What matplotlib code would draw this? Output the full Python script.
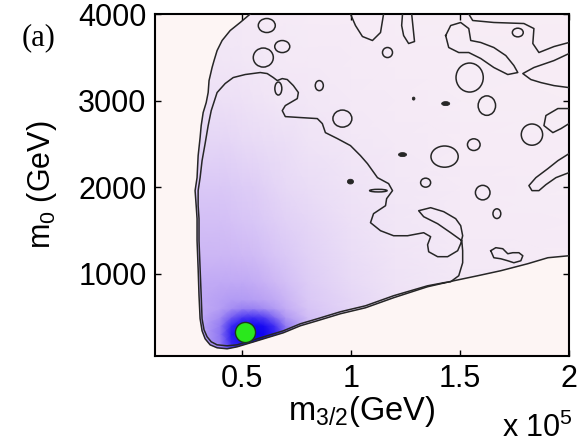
import numpy as np
import matplotlib
matplotlib.use('Agg')
import matplotlib.pyplot as plt
from matplotlib.colors import LinearSegmentedColormap
from matplotlib.patches import Polygon, Ellipse

plt.rcParams['font.family'] = ['Liberation Sans', 'DejaVu Sans']

# x in units of 1e5 GeV, y (m0) in GeV
# coarse density read off the colour of the picture
grid_x = [0.1, 0.3, 0.4, 0.45, 0.5, 0.55, 0.6, 0.65, 0.7, 0.8, 1.0, 1.2, 1.5, 2.0]
grid_y = [40, 200, 300, 400, 500, 600, 700, 900, 1200, 1600, 2000, 2500, 3000, 3500, 4000]
density = [
    [0.40, 0.42, 0.55, 0.70, 0.78, 0.80, 0.76, 0.66, 0.52, 0.34, 0.22, 0.16, 0.10, 0.10],
    [0.40, 0.42, 0.60, 0.82, 0.92, 0.95, 0.90, 0.78, 0.60, 0.38, 0.24, 0.17, 0.11, 0.10],
    [0.40, 0.42, 0.62, 0.86, 0.98, 1.00, 0.97, 0.84, 0.65, 0.40, 0.25, 0.17, 0.11, 0.10],
    [0.40, 0.42, 0.60, 0.82, 0.95, 0.97, 0.93, 0.80, 0.60, 0.38, 0.25, 0.17, 0.11, 0.10],
    [0.40, 0.42, 0.55, 0.68, 0.78, 0.80, 0.76, 0.64, 0.50, 0.35, 0.24, 0.16, 0.11, 0.10],
    [0.40, 0.42, 0.48, 0.54, 0.58, 0.58, 0.55, 0.49, 0.42, 0.32, 0.23, 0.16, 0.11, 0.10],
    [0.40, 0.43, 0.47, 0.49, 0.49, 0.48, 0.46, 0.43, 0.39, 0.30, 0.22, 0.15, 0.10, 0.09],
    [0.39, 0.42, 0.43, 0.43, 0.43, 0.42, 0.40, 0.37, 0.34, 0.28, 0.20, 0.14, 0.10, 0.08],
    [0.36, 0.38, 0.38, 0.38, 0.37, 0.36, 0.34, 0.32, 0.30, 0.25, 0.18, 0.13, 0.09, 0.07],
    [0.32, 0.34, 0.34, 0.33, 0.32, 0.31, 0.29, 0.27, 0.25, 0.22, 0.16, 0.12, 0.08, 0.07],
    [0.28, 0.30, 0.30, 0.29, 0.28, 0.27, 0.25, 0.23, 0.21, 0.18, 0.14, 0.11, 0.08, 0.06],
    [0.21, 0.23, 0.23, 0.22, 0.21, 0.20, 0.19, 0.18, 0.17, 0.14, 0.11, 0.09, 0.07, 0.06],
    [0.15, 0.16, 0.16, 0.16, 0.15, 0.14, 0.13, 0.12, 0.12, 0.11, 0.09, 0.08, 0.06, 0.05],
    [0.12, 0.12, 0.12, 0.12, 0.11, 0.11, 0.10, 0.10, 0.09, 0.09, 0.08, 0.07, 0.06, 0.05],
    [0.10, 0.10, 0.10, 0.10, 0.09, 0.09, 0.08, 0.08, 0.08, 0.07, 0.07, 0.06, 0.05, 0.05],
]

# outer contour (left edge and lower edge of the allowed region)
outer_x = [0.537, 0.491, 0.445, 0.408, 0.385, 0.371, 0.362, 0.348, 0.344, 0.335, 0.321, 0.312,
           0.307, 0.298, 0.293, 0.284, 0.289, 0.293, 0.293, 0.298, 0.302, 0.307, 0.316, 0.330,
           0.353, 0.385, 0.431, 0.477, 0.523, 0.569, 0.629, 0.689, 0.767, 0.845, 0.951, 1.066,
           1.195, 1.351, 1.471, 1.581, 1.687, 1.811, 1.903, 2.0]
outer_y = [4000, 3902, 3809, 3694, 3578, 3462, 3382, 3231, 3093, 2977, 2861, 2711,
           2572, 2364, 2110, 1960, 1786, 1636, 1382, 1058, 746, 480, 341, 249,
           179, 145, 133, 156, 191, 226, 272, 318, 399, 457, 538, 607,
           723, 850, 919, 977, 1035, 1116, 1185, 1208]

# inner contour
inner_x = [1.425, 1.351, 1.195, 1.066, 0.951, 0.845, 0.767, 0.689, 0.629, 0.569, 0.523, 0.477,
           0.431, 0.385, 0.358, 0.339, 0.325, 0.316, 0.312, 0.307, 0.302, 0.302, 0.298, 0.298,
           0.307, 0.316, 0.330, 0.344, 0.358, 0.385, 0.422, 0.459, 0.514, 0.583, 0.615, 0.643,
           0.661, 0.684, 0.707, 0.735, 0.758, 0.753, 0.698, 0.684, 0.698, 0.767, 0.845, 0.868,
           0.882, 0.937, 0.997, 1.043, 1.075, 1.121, 1.172, 1.190, 1.163, 1.158, 1.103, 1.089,
           1.135, 1.195, 1.259, 1.333, 1.365, 1.351, 1.356, 1.397, 1.443, 1.489, 1.503, 1.512,
           1.503, 1.480, 1.425, 1.365, 1.310, 1.333, 1.397, 1.457, 1.508, 1.512, 1.512, 1.494,
           1.457, 1.425]
inner_y = [896, 861, 746, 630, 561, 480, 422, 341, 295, 249, 214, 179,
           168, 179, 214, 272, 353, 480, 746, 1058, 1382, 1636, 1786, 1960,
           2110, 2306, 2503, 2711, 2884, 3093, 3197, 3266, 3301, 3324, 3312, 3266,
           3231, 3254, 3243, 3173, 3093, 3023, 2942, 2884, 2815, 2804, 2792, 2734,
           2630, 2561, 2480, 2364, 2272, 2110, 2041, 1960, 1867, 1786, 1694, 1590,
           1497, 1439, 1439, 1474, 1428, 1335, 1254, 1197, 1197, 1266, 1347, 1439,
           1555, 1636, 1717, 1763, 1728, 1659, 1578, 1474, 1382, 1266, 1127, 977,
           908, 896]

# small closed islands: centre, width (1e5 GeV), height (GeV)
island_x = [0.613, 0.684, 0.597, 0.666, 0.854, 0.960, 1.167, 1.544, 1.623, 1.830, 1.563,
            1.429, 1.342, 1.604, 1.669, 1.765, 1.125]
island_y = [3867, 3624, 3497, 3139, 3173, 2792, 3555, 3266, 2942, 2607, 2491,
            2353, 2052, 1937, 1694, 3786, 1960]
island_w = [0.078, 0.069, 0.092, 0.032, 0.037, 0.087, 0.046, 0.125, 0.080, 0.098, 0.058,
            0.125, 0.046, 0.067, 0.036, 0.050, 0.080]
island_h = [162, 139, 220, 150, 116, 197, 116, 335, 225, 245, 135,
            245, 104, 168, 112, 100, 30]

# tiny filled specks
speck_x = [0.997, 1.287, 1.434, 1.236]
speck_y = [2064, 3023, 2965, 2376]
speck_w = [0.028, 0.012, 0.037, 0.037]
speck_h = [55, 35, 46, 46]

# open contour pieces that run into the top / right frame
piece_u1_x = [0.997, 1.020, 1.052, 1.098, 1.135, 1.149]
piece_u1_y = [4000, 3867, 3740, 3694, 3786, 4000]
piece_u2_x = [1.236, 1.232, 1.241, 1.264, 1.291, 1.278]
piece_u2_y = [4000, 3867, 3751, 3659, 3682, 4000]
piece_loop_x = [1.434, 1.457, 1.503, 1.540, 1.549, 1.595, 1.655, 1.710, 1.747, 1.765, 1.719,
                1.655, 1.595, 1.540, 1.494, 1.448, 1.434]
piece_loop_y = [3751, 3867, 3902, 3832, 3694, 3671, 3613, 3520, 3405, 3324, 3301,
                3382, 3486, 3555, 3555, 3613, 3751]
piece_top_x = [1.540, 1.558, 1.655, 1.793, 1.839, 1.834, 1.862, 1.931, 2.0]
piece_top_y = [4000, 3925, 3902, 3890, 3832, 3659, 3555, 3624, 3671]
piece_r1_x = [2.0, 1.931, 1.839, 1.788, 1.825, 1.871, 1.931, 2.0]
piece_r1_y = [3543, 3462, 3382, 3312, 3243, 3208, 3173, 3150]
piece_r2_x = [2.0, 1.949, 1.894, 1.885, 1.926, 1.963, 2.0]
piece_r2_y = [2908, 2908, 2827, 2711, 2630, 2676, 2734]
piece_r3_x = [2.0, 1.949, 1.903, 1.848, 1.816, 1.830, 1.862, 1.894, 1.940, 2.0]
piece_r3_y = [2387, 2306, 2214, 2110, 2018, 1960, 1960, 2029, 2110, 2168]
piece_pair_x = [1.641, 1.664, 1.696, 1.719, 1.742, 1.770, 1.788, 1.779, 1.747, 1.719, 1.687,
                1.655, 1.641]
piece_pair_y = [1266, 1301, 1289, 1231, 1243, 1243, 1208, 1150, 1127, 1150, 1173,
                1185, 1266]

best_x = [0.512]
best_y = [330]

xtick_vals = [0.5, 1.0, 1.5, 2.0]
xtick_labels = ['0.5', '1', '1.5', '2']
ytick_vals = [1000, 2000, 3000, 4000]

cmap = LinearSegmentedColormap.from_list('dens', [
    (0.0, '#fbf1f5'), (0.1, '#f3e8f6'), (0.2, '#e8daf6'), (0.3, '#dac8f6'),
    (0.4, '#c8b1f5'), (0.55, '#a48cf3'), (0.7, '#7058f2'), (0.85, '#2e1ef0'),
    (1.0, '#0a00f2')])

fig = plt.figure(figsize=(5.88, 4.43), dpi=100)
ax = fig.add_axes([155 / 588, 1 - 356 / 443, 414 / 588, 342 / 443])
ax.set_facecolor('#fdf5f4')

gx, gy = np.meshgrid(grid_x, grid_y)
mesh = ax.pcolormesh(gx, gy, np.array(density), shading='gouraud', cmap=cmap,
                     vmin=0, vmax=1, zorder=1)
region = Polygon(np.column_stack([outer_x + [2.0], outer_y + [4000]]), closed=True,
                 facecolor='none', edgecolor='none', transform=ax.transData)
ax.add_patch(region)
mesh.set_clip_path(region)

line_kw = dict(color='#262626', lw=1.1, zorder=3)
ax.plot(outer_x, outer_y, **line_kw)
ax.plot(inner_x, inner_y, **line_kw)
for px, py in [(piece_u1_x, piece_u1_y), (piece_u2_x, piece_u2_y),
               (piece_loop_x, piece_loop_y), (piece_top_x, piece_top_y),
               (piece_r1_x, piece_r1_y), (piece_r2_x, piece_r2_y),
               (piece_r3_x, piece_r3_y), (piece_pair_x, piece_pair_y)]:
    ax.plot(px, py, **line_kw)

for cx, cy, w, h in zip(island_x, island_y, island_w, island_h):
    ax.add_patch(Ellipse((cx, cy), w, h, fill=False, ec='#262626', lw=1.1, zorder=3))
for cx, cy, w, h in zip(speck_x, speck_y, speck_w, speck_h):
    ax.add_patch(Ellipse((cx, cy), w, h, fc='#262626', ec='#262626', lw=0.6, zorder=3))

ax.plot(best_x, best_y, 'o', ms=14.5, mfc='#2ae81c', mec='#1c3a1c', mew=1.0,
        zorder=5, clip_on=False)

ax.set_xlim(0.1, 2.0)
ax.set_ylim(50, 4000)
ax.set_xticks(xtick_vals)
ax.set_xticklabels(xtick_labels)
ax.set_yticks(ytick_vals)
ax.tick_params(direction='in', top=True, right=True, length=4, width=1,
               labelsize=22, pad=6)
for s in ax.spines.values():
    s.set_linewidth(1.5)

ax.set_xlabel(r'$\mathregular{m_{3/2}}$(GeV)', fontsize=23.5, labelpad=0)
ax.set_ylabel(r'$\mathregular{m_0}$ (GeV)', fontsize=22, labelpad=14)
ax.text(1.01, -0.237, r'x 10$^\mathregular{5}$', transform=ax.transAxes,
        ha='right', va='baseline', fontsize=22)
fig.text(22 / 588, 1 - 45 / 443, '(a)', family='Liberation Serif', fontsize=22,
         va='baseline')

fig.savefig('out.png', dpi=100)
